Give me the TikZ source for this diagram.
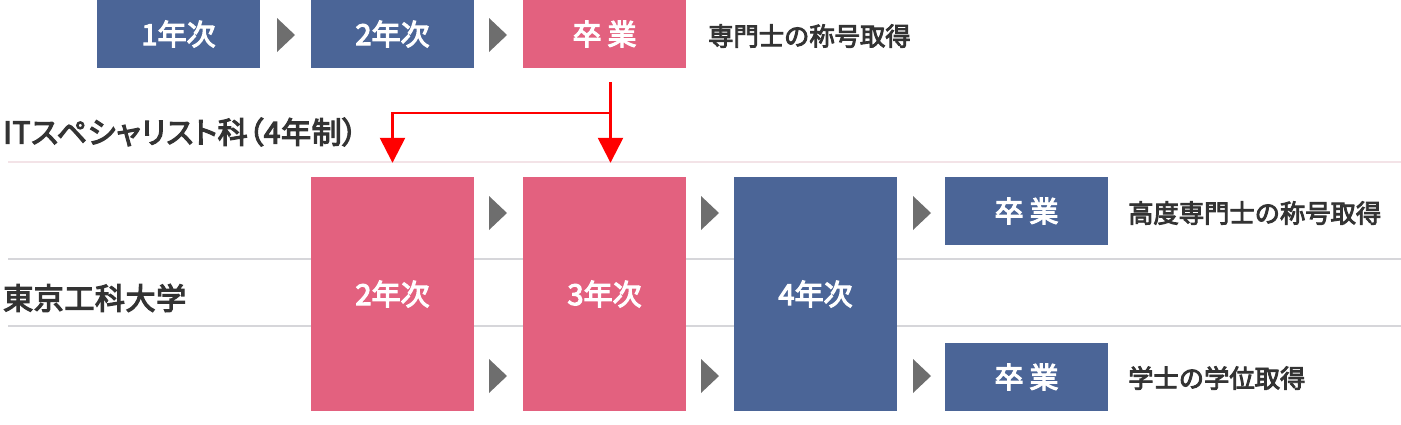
\documentclass[tikz,border=0pt]{standalone}
\usepackage{fontspec}
\setmainfont{Noto Sans CJK JP}
\newfontfamily\headfont[RawFeature=+palt,LetterSpace=2]{Noto Sans CJK JP}
\usetikzlibrary{arrows.meta}
\definecolor{navy}{HTML}{4B6597}
\definecolor{rose}{HTML}{E3617F}
\definecolor{ink}{HTML}{333333}
\definecolor{chev}{HTML}{6E6E6E}
\definecolor{rulegray}{HTML}{D6D6DA}
\definecolor{rulepink}{HTML}{F3E3E7}
\newcommand\heavyon[1]{\special{pdf:literal direct 2 Tr #1 w}}
\newcommand\heavyoff{\special{pdf:literal direct 0 Tr}}
\tikzset{
	heavy/.style={execute at begin node={\heavyon{#1}},execute at end node={\heavyoff}},
	box/.style={rectangle,minimum width=163pt,inner sep=0pt,text=white,font=\fontsize{29}{31}\selectfont,heavy=1.1},
	yearbox/.style={box,minimum height=68pt},
	tallbox/.style={box,minimum height=234pt},
	lbl/.style={anchor=west,inner sep=0pt,text=ink,font=\fontsize{25.3}{28}\selectfont,heavy=0.9},
	head/.style={anchor=west,inner sep=0pt,text=ink,font=\fontsize{30}{32}\headfont,heavy=1.2},
	chevron/.style={fill=chev},
	redline/.style={draw=red,line width=2.5pt,-{Triangle[width=25pt,length=25pt]}}
}
\begin{document}
\begin{tikzpicture}[x=1pt,y=-1pt]
			\useasboundingbox (0,0) rectangle (1401,424);
			\foreach \y/\c in {162/rulepink,259/rulegray,326/rulegray}
			\draw[\c,line width=1.2pt] (8,\y) -- (1401,\y);
			\node[yearbox,fill=navy] (s1) at (178.5,34) {1年次};
			\node[yearbox,fill=navy] (s2) at (392.5,34) {2年次};
			\node[yearbox,fill=rose] (sg) at (604.5,34) {卒\hspace{6pt}業};
			\node[lbl] (sl) at (708,36) {専門士の称号取得};
			\node[head] (it) at (3,132) {ITスペシャリスト科（4年制）};
			\node[head] (tu) at (3,298) {東京工科大学};
			\node[tallbox,fill=rose] (y2) at (392.5,294) {2年次};
			\node[tallbox,fill=rose] (y3) at (604.5,294) {3年次};
			\node[tallbox,fill=navy] (y4) at (815.5,294) {4年次};
			\node[yearbox,fill=navy] (ga) at (1026.5,211) {卒\hspace{6pt}業};
			\node[yearbox,fill=navy] (gb) at (1026.5,377) {卒\hspace{6pt}業};
			\node[lbl] (la) at (1128,213) {高度専門士の称号取得};
			\node[lbl] (lb) at (1128,378) {学士の学位取得};
			\foreach \x/\y in {277/35,489/35,489/213,489/376,701/213,701/376,913/213,913/376}
			\fill[chevron] (\x,\y-17) -- (\x+18,\y) -- (\x,\y+17) -- cycle;
			\coordinate (split) at ([xshift=6pt,yshift=-45pt]sg.south);
			\draw[redline] ([xshift=6pt,yshift=-14pt]sg.south) -- ([xshift=6pt,yshift=14pt]y3.north);
			\draw[redline] (split) -| ([yshift=14pt]y2.north);
		\end{tikzpicture}
\end{document}
